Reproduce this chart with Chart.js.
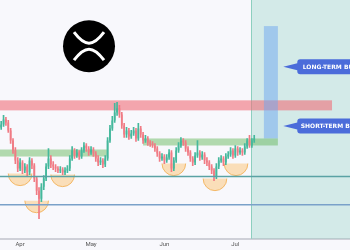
<!DOCTYPE html>
<html><head><meta charset="utf-8">
<style>html,body{margin:0;padding:0;background:#f8f8fc;}canvas{display:block;}</style>
<script src="https://cdn.jsdelivr.net/npm/chart.js@4.4.1/dist/chart.umd.min.js"></script>
</head><body>
<canvas id="c" width="350" height="250"></canvas>
<script>
// Daily XRP candles; day 0 = 1 Apr, first candle = day -8 (24 Mar)
const FIRST_DAY = -8;
const opens = [
0.546,0.552,0.562,0.556,0.540,0.520,0.500,0.480,0.464,0.476,
0.460,0.468,0.456,0.480,0.470,0.444,0.420,0.404,0.428,0.444,
0.468,0.484,0.472,0.468,0.464,0.460,0.462,0.456,0.460,0.464,
0.484,0.500,0.490,0.496,0.488,0.500,0.510,0.504,0.496,0.502,
0.494,0.484,0.476,0.480,0.472,0.484,0.520,0.544,0.560,0.576,
0.584,0.572,0.550,0.532,0.540,0.528,0.534,0.540,0.524,0.544,
0.532,0.520,0.524,0.516,0.514,0.510,0.504,0.494,0.484,0.488,
0.480,0.486,0.496,0.464,0.480,0.500,0.510,0.520,0.516,0.504,
0.496,0.484,0.476,0.490,0.496,0.486,0.492,0.480,0.476,0.468,
0.460,0.448,0.468,0.480,0.484,0.476,0.488,0.492,0.500,0.490,
0.504,0.496,0.500,0.496,0.508,0.520,0.510,0.520];
const closes = [
0.552,0.562,0.556,0.540,0.520,0.500,0.480,0.464,0.476,0.460,
0.468,0.456,0.480,0.470,0.444,0.420,0.404,0.428,0.444,0.468,
0.484,0.472,0.468,0.464,0.460,0.462,0.456,0.460,0.464,0.484,
0.500,0.490,0.496,0.488,0.500,0.510,0.504,0.496,0.502,0.494,
0.484,0.476,0.480,0.472,0.484,0.520,0.544,0.560,0.576,0.584,
0.572,0.550,0.532,0.540,0.528,0.534,0.540,0.524,0.544,0.532,
0.520,0.524,0.516,0.514,0.510,0.504,0.494,0.484,0.488,0.480,
0.486,0.496,0.464,0.480,0.500,0.510,0.520,0.516,0.504,0.496,
0.484,0.476,0.490,0.496,0.486,0.492,0.480,0.476,0.468,0.460,
0.448,0.468,0.480,0.484,0.476,0.488,0.492,0.500,0.490,0.504,
0.496,0.500,0.496,0.508,0.520,0.510,0.520,0.524];
const highs = [
0.558,0.570,0.566,0.560,0.544,0.524,0.506,0.486,0.484,0.480,
0.474,0.472,0.486,0.484,0.474,0.448,0.426,0.434,0.450,0.474,
0.504,0.490,0.478,0.472,0.468,0.468,0.466,0.466,0.470,0.490,
0.508,0.504,0.502,0.500,0.506,0.516,0.514,0.508,0.508,0.506,
0.498,0.490,0.486,0.484,0.490,0.526,0.550,0.568,0.594,0.596,
0.590,0.576,0.554,0.546,0.544,0.540,0.546,0.544,0.554,0.548,
0.536,0.530,0.528,0.520,0.518,0.514,0.508,0.498,0.494,0.492,
0.492,0.502,0.500,0.486,0.506,0.516,0.526,0.524,0.520,0.508,
0.500,0.488,0.496,0.520,0.500,0.498,0.496,0.486,0.480,0.472,
0.464,0.474,0.486,0.490,0.488,0.494,0.498,0.506,0.504,0.510,
0.508,0.506,0.504,0.514,0.524,0.530,0.524,0.530];
const lows = [
0.542,0.548,0.550,0.536,0.514,0.494,0.474,0.458,0.460,0.454,
0.456,0.450,0.452,0.464,0.438,0.412,0.364,0.398,0.422,0.440,
0.464,0.466,0.462,0.458,0.456,0.456,0.452,0.452,0.456,0.460,
0.480,0.484,0.486,0.482,0.484,0.496,0.498,0.490,0.492,0.488,
0.478,0.470,0.472,0.466,0.468,0.480,0.516,0.540,0.556,0.570,
0.566,0.544,0.526,0.526,0.522,0.524,0.530,0.518,0.520,0.526,
0.514,0.516,0.510,0.508,0.506,0.498,0.488,0.478,0.480,0.474,
0.476,0.482,0.458,0.460,0.476,0.496,0.506,0.510,0.498,0.490,
0.478,0.470,0.472,0.486,0.480,0.482,0.474,0.470,0.462,0.454,
0.440,0.444,0.464,0.476,0.470,0.472,0.484,0.488,0.484,0.486,
0.490,0.492,0.490,0.492,0.504,0.506,0.506,0.516];

const monthTickDays = [0, 30, 61, 91];
const monthTickLabels = ['Apr', 'May', 'Jun', 'Jul'];
const xRange = [-8.5, 139.5];
const yRange = [0.324, 0.80];

// Annotated levels (day, price)
const resistanceZone = [-8.5, 131.9, 0.580, 0.600];
const supportZoneA = [-8.5, 36.7, 0.488, 0.502];
const supportZoneB = [52, 109, 0.510, 0.524];
const targetBox = [103.1, 109, 0.524, 0.748];
const projectionStart = 97.8;
const tealLevel = 0.448;
const blueLevel = 0.392;
const bowlDays = [0, 18, 7, 65, 82.4, 91.3];
const bowlTops = [0.454, 0.452, 0.400, 0.474, 0.444, 0.474];
const bowlHalfDays = 5, bowlDepth = 0.024;
const calloutTexts = ['LONG-TERM BUY', 'SHORT-TERM BUY'];
const calloutPrices = [0.667, 0.549];
const calloutTipDay = 111.3, calloutBodyDay = 117.2;

const UP = '#45b89c', DOWN = '#f07b84';
const colors = closes.map((c, i) => c >= opens[i] ? UP : DOWN);
const bodies = closes.map((c, i) => ({x: FIRST_DAY + i, y: [opens[i], c]}));
const wicks = closes.map((c, i) => ({x: FIRST_DAY + i, y: [lows[i], highs[i]]}));

const overlay = {
  id: 'overlay',
  beforeDraw(chart) {
    const {ctx, width, height} = chart;
    ctx.save(); ctx.fillStyle = '#f8f8fc'; ctx.fillRect(0, 0, width, height); ctx.restore();
  },
  beforeDatasetsDraw(chart) {
    const {ctx, chartArea: a, scales: {x, y}} = chart;
    const zone = (z, fill) => {
      const x0 = x.getPixelForValue(z[0]), x1 = x.getPixelForValue(z[1]);
      const y0 = y.getPixelForValue(z[3]), y1 = y.getPixelForValue(z[2]);
      ctx.fillStyle = fill; ctx.fillRect(x0, y0, x1 - x0, y1 - y0);
    };
    ctx.save();
    const sx = x.getPixelForValue(projectionStart);
    ctx.fillStyle = 'rgba(100,190,170,0.25)';
    ctx.fillRect(sx, a.top, a.right - sx, a.bottom - a.top);
    ctx.strokeStyle = '#8ccfbf'; ctx.lineWidth = 1;
    ctx.beginPath(); ctx.moveTo(Math.round(sx) + 0.5, a.top); ctx.lineTo(Math.round(sx) + 0.5, a.bottom); ctx.stroke();
    zone(resistanceZone, 'rgba(240,110,120,0.6)');
    zone(targetBox, 'rgba(110,165,240,0.5)');
    zone(supportZoneA, 'rgba(90,180,80,0.45)');
    zone(supportZoneB, 'rgba(90,180,80,0.45)');
    // bowls
    bowlDays.forEach((d, i) => {
      const cx = x.getPixelForValue(d);
      const rx = x.getPixelForValue(d + bowlHalfDays) - cx;
      const ty = y.getPixelForValue(bowlTops[i]);
      const ry = y.getPixelForValue(bowlTops[i] - bowlDepth) - ty;
      ctx.beginPath(); ctx.ellipse(cx, ty, rx, ry, 0, 0, Math.PI); ctx.closePath();
      ctx.fillStyle = 'rgba(252,200,130,0.55)'; ctx.fill();
      ctx.beginPath(); ctx.ellipse(cx, ty, rx, ry, 0, 0, Math.PI);
      ctx.strokeStyle = '#f4b866'; ctx.lineWidth = 1; ctx.stroke();
    });
    ctx.restore();
  },
  afterDraw(chart) {
    const {ctx, chartArea: a, scales: {x, y}} = chart;
    ctx.save();
    // callouts
    const tx = x.getPixelForValue(calloutTipDay), bx = x.getPixelForValue(calloutBodyDay);
    calloutPrices.forEach((p, i) => {
      const ty = y.getPixelForValue(p);
      const h = 15, r = 3, right = a.right + 10;
      ctx.fillStyle = '#4b6cda';
      ctx.beginPath();
      ctx.moveTo(bx + r, ty - h / 2);
      ctx.lineTo(right, ty - h / 2); ctx.lineTo(right, ty + h / 2);
      ctx.lineTo(bx + r, ty + h / 2);
      ctx.quadraticCurveTo(bx, ty + h / 2, bx, ty + h / 2 - r);
      ctx.lineTo(bx, ty + 3.5); ctx.lineTo(tx, ty); ctx.lineTo(bx, ty - 3.5);
      ctx.lineTo(bx, ty - h / 2 + r);
      ctx.quadraticCurveTo(bx, ty - h / 2, bx + r, ty - h / 2);
      ctx.closePath(); ctx.fill();
      ctx.fillStyle = '#ffffff';
      ctx.font = 'bold 6px "DejaVu Sans", sans-serif';
      ctx.textBaseline = 'middle'; ctx.textAlign = 'left';
      ctx.fillText(calloutTexts[i], bx + (i === 0 ? 5.5 : 3.5), ty + 0.5);
    });
    // XRP logo
    const w = a.right - a.left, hh = a.bottom - a.top;
    const cx = a.left + w * 89 / 350, cy = a.top + hh * 46 / 238, R = 26 * w / 350;
    ctx.fillStyle = '#000000';
    ctx.beginPath(); ctx.arc(cx, cy, R, 0, Math.PI * 2); ctx.fill();
    ctx.strokeStyle = '#ffffff'; ctx.lineWidth = 3; ctx.lineCap = 'butt';
    const s = R / 26;
    ctx.beginPath();
    ctx.moveTo(cx - 15 * s, cy - 14 * s);
    ctx.bezierCurveTo(cx - 4 * s, cy + 0.7 * s, cx + 4 * s, cy + 0.7 * s, cx + 15 * s, cy - 14 * s);
    ctx.stroke();
    ctx.beginPath();
    ctx.moveTo(cx - 15 * s, cy + 14 * s);
    ctx.bezierCurveTo(cx - 4 * s, cy - 0.7 * s, cx + 4 * s, cy - 0.7 * s, cx + 15 * s, cy + 14 * s);
    ctx.stroke();
    ctx.restore();
  }
};

new Chart(document.getElementById('c'), {
  type: 'bar',
  data: {
    datasets: [
      {type: 'line', data: [{x: xRange[0], y: tealLevel}, {x: xRange[1], y: tealLevel}], borderColor: '#5aa2a4', borderWidth: 1.5, pointRadius: 0, order: 0},
      {type: 'line', data: [{x: xRange[0], y: blueLevel}, {x: xRange[1], y: blueLevel}], borderColor: '#7aa1c9', borderWidth: 1.5, pointRadius: 0, order: 0},
      {data: bodies, backgroundColor: colors, grouped: false, barPercentage: 0.9, categoryPercentage: 0.8, borderWidth: 0, order: 1},
      {data: wicks, backgroundColor: colors, grouped: false, barThickness: 1, borderWidth: 0, order: 2}
    ]
  },
  options: {
    responsive: false,
    animation: false,
    devicePixelRatio: 1,
    layout: {padding: 0},
    plugins: {legend: {display: false}, tooltip: {enabled: false}},
    scales: {
      x: {
        type: 'linear', min: xRange[0], max: xRange[1], offset: false,
        grid: {display: false, drawTicks: false},
        border: {display: true, color: '#cfd0d8', width: 2},
        afterBuildTicks: s => { s.ticks = monthTickDays.map(v => ({value: v})); },
        ticks: {
          autoSkip: false, maxRotation: 0, padding: 2, color: '#555',
          font: {size: 6, family: 'Roboto'},
          callback: v => { const k = monthTickDays.indexOf(v); return k >= 0 ? monthTickLabels[k] : ''; }
        }
      },
      y: {display: false, min: yRange[0], max: yRange[1]}
    }
  },
  plugins: [overlay]
});
</script>
</body></html>
